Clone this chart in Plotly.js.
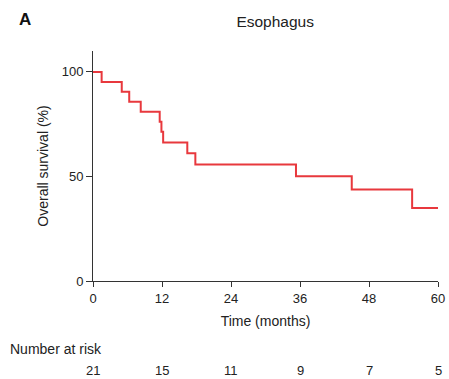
<!DOCTYPE html>
<html>
<head>
<meta charset="utf-8">
<script src="https://cdn.plot.ly/plotly-3.0.1.min.js"></script>
<style>
  html, body { margin: 0; padding: 0; background: #fff; }
  #chart { width: 449px; height: 379px; }
</style>
</head>
<body>
<div id="chart"></div>
<script>
// Kaplan–Meier overall survival, esophageal cohort (n = 21)
const eventMonths = [0, 1.5, 5.0, 6.3, 8.3, 11.6, 11.9, 12.2, 16.4, 17.8, 35.3, 45.0, 55.5, 60];
const survivalPct = [100, 95.2, 90.5, 85.7, 81.0, 76.2, 71.4, 66.2, 61.1, 55.7, 50.1, 43.8, 34.9, 34.9];

// Number-at-risk table under the time axis
const riskMonths = [0, 12, 24, 36, 48, 60];
const riskCounts = [21, 15, 11, 9, 7, 5];

const family = 'Liberation Sans, Arial, sans-serif';
const tickFont = { family: family, size: 13, color: '#222' };
const labelFont = { family: family, size: 14, color: '#222' };

const trace = {
  x: eventMonths,
  y: survivalPct,
  type: 'scatter',
  mode: 'lines',
  line: { shape: 'hv', color: '#e8383d', width: 2 },
  hoverinfo: 'skip',
  showlegend: false
};

const annotations = [
  {
    text: '<b>A</b>', xref: 'paper', yref: 'paper',
    x: -0.22, y: 1.135, xanchor: 'left', yanchor: 'middle',
    showarrow: false, font: { family: family, size: 17, color: '#111' }
  },
  {
    text: 'Number at risk', xref: 'paper', yref: 'paper',
    x: -0.245, y: -0.295, xanchor: 'left', yanchor: 'middle',
    showarrow: false, font: labelFont
  }
];
riskMonths.forEach((m, i) => {
  annotations.push({
    text: String(riskCounts[i]), xref: 'x', yref: 'paper',
    x: m, y: -0.39, xanchor: 'center', yanchor: 'middle',
    showarrow: false, font: tickFont
  });
});

const layout = {
  width: 449,
  height: 379,
  margin: { l: 93, r: 11, t: 51, b: 98 },
  paper_bgcolor: '#fff',
  plot_bgcolor: '#fff',
  font: tickFont,
  title: {
    text: 'Esophagus',
    xref: 'paper', x: 0.528, xanchor: 'center',
    yref: 'container', y: 0.942, yanchor: 'middle',
    font: { family: family, size: 15.5, color: '#222' }
  },
  xaxis: {
    range: [0, 60],
    tickvals: riskMonths,
    ticks: 'outside', ticklen: 5, tickwidth: 1, tickcolor: '#333',
    showline: true, linecolor: '#333', linewidth: 1,
    showgrid: false, zeroline: false,
    tickfont: tickFont,
    title: { text: 'Time (months)', font: labelFont, standoff: 11 }
  },
  yaxis: {
    range: [0, 110],
    tickvals: [0, 50, 100],
    ticks: 'outside', ticklen: 6, tickwidth: 1, tickcolor: '#333',
    showline: true, linecolor: '#333', linewidth: 1,
    showgrid: false, zeroline: false,
    tickfont: tickFont,
    title: { text: 'Overall survival (%)', font: labelFont, standoff: 9 }
  },
  annotations: annotations
};

Plotly.newPlot('chart', [trace], layout, { displayModeBar: false, staticPlot: true });
</script>
</body>
</html>
